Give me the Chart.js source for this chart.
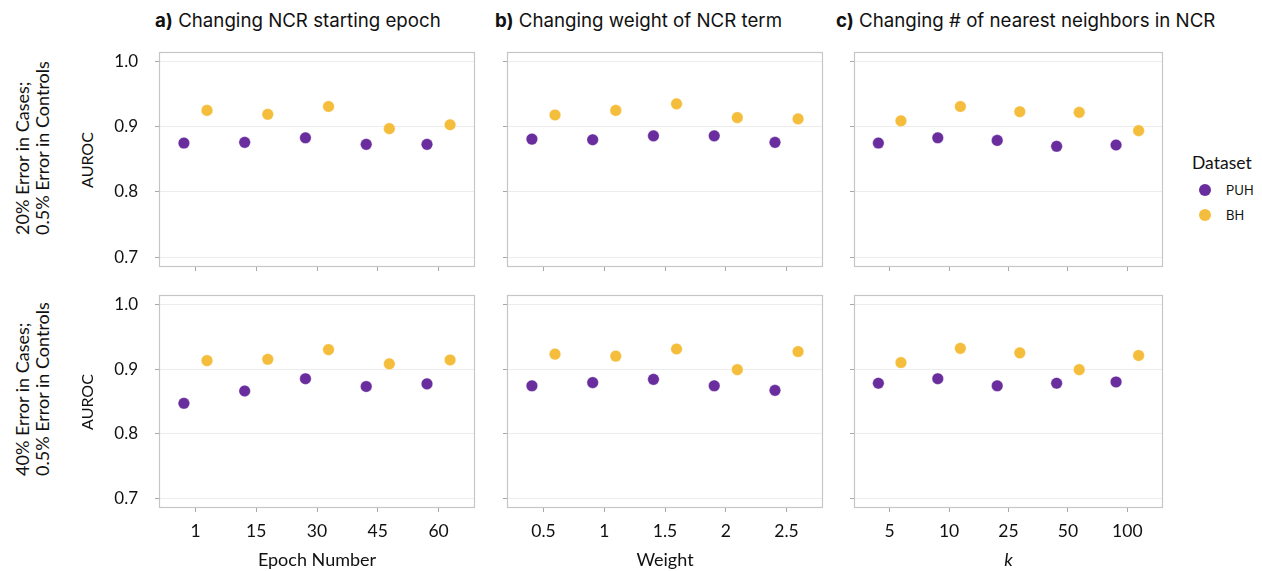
<!DOCTYPE html>
<html>
<head>
<meta charset="utf-8">
<script src="https://cdn.jsdelivr.net/npm/chart.js@4.4.1/dist/chart.umd.min.js"></script>
<style>
  html, body { margin: 0; padding: 0; background: #fff; }
  body { width: 1262px; height: 571px; position: relative; overflow: hidden; font-family: Lato, "Open Sans", sans-serif; color: #111; }
  canvas { position: absolute; }
  .abs { position: absolute; white-space: pre; }
  .title { font-family: Inter, "Open Sans", sans-serif; font-size: 18.7px; color: #111; top: 9px; }
  .title b { font-weight: 700; }
  .rot { transform-origin: 0 0; transform: rotate(-90deg); }
</style>
</head>
<body>
<script>
// ---------- data ----------
const seriesNames = ["PUH", "BH"];
const yTickValues = [0.7, 0.8, 0.9, 1.0];

const epochLabels  = ["1", "15", "30", "45", "60"];
const weightLabels = ["0.5", "1", "1.5", "2", "2.5"];
const kLabels      = ["5", "10", "25", "50", "100"];

// Row 1: 20% error in cases; 0.5% error in controls
const r1EpochPUH  = [0.875, 0.876, 0.883, 0.873, 0.873];
const r1EpochBH   = [0.925, 0.919, 0.931, 0.897, 0.903];
const r1WeightPUH = [0.881, 0.880, 0.886, 0.886, 0.876];
const r1WeightBH  = [0.918, 0.925, 0.935, 0.914, 0.912];
const r1KPUH      = [0.875, 0.883, 0.879, 0.870, 0.872];
const r1KBH       = [0.909, 0.931, 0.923, 0.922, 0.894];

// Row 2: 40% error in cases; 0.5% error in controls
const r2EpochPUH  = [0.847, 0.866, 0.885, 0.873, 0.877];
const r2EpochBH   = [0.913, 0.915, 0.930, 0.908, 0.914];
const r2WeightPUH = [0.874, 0.879, 0.884, 0.874, 0.867];
const r2WeightBH  = [0.923, 0.920, 0.931, 0.899, 0.927];
const r2KPUH      = [0.878, 0.885, 0.874, 0.878, 0.880];
const r2KBH       = [0.910, 0.932, 0.925, 0.899, 0.921];

// ---------- style ----------
const COLORS = { PUH: "#6A2D9E", BH: "#F5BD3C" };
const DODGE = 0.19;
const GRID = "#ececec", TICKC = "#a8a8a8", BORDER = "#c6c6c6";

const cols = [
  { l: 159, r: 475, labels: epochLabels },
  { l: 507, r: 823, labels: weightLabels },
  { l: 854, r: 1163, labels: kLabels }
];
const rows = [
  { t: 52, b: 267, data: [[r1EpochPUH, r1EpochBH], [r1WeightPUH, r1WeightBH], [r1KPUH, r1KBH]] },
  { t: 295, b: 508, data: [[r2EpochPUH, r2EpochBH], [r2WeightPUH, r2WeightBH], [r2KPUH, r2KBH]] }
];

const borderPlugin = {
  id: "panelBorder",
  beforeDatasetsDraw(chart) {
    const a = chart.chartArea, ctx = chart.ctx;
    ctx.save();
    ctx.strokeStyle = BORDER;
    ctx.lineWidth = 1.2;
    ctx.strokeRect(a.left + 0.5, a.top + 0.5, a.right - a.left - 1, a.bottom - a.top - 1);
    ctx.restore();
  }
};

const PADL = 60, PADT = 8, PADR = 8, PADB = 45;

rows.forEach((row, ri) => {
  cols.forEach((col, ci) => {
    const cv = document.createElement("canvas");
    const w = col.r - col.l + PADL + PADR;
    const h = row.b - row.t + PADT + PADB;
    cv.width = w; cv.height = h;
    cv.style.left = (col.l - PADL) + "px";
    cv.style.top = (row.t - PADT) + "px";
    cv.style.width = w + "px"; cv.style.height = h + "px";
    document.body.appendChild(cv);

    const showY = ci === 0, showX = ri === rows.length - 1;
    const pair = row.data[ci];
    const datasets = seriesNames.map((name, si) => ({
      label: name,
      data: pair[si].map((v, i) => ({ x: i + 1 + (si === 0 ? -DODGE : DODGE), y: v })),
      backgroundColor: COLORS[name],
      borderColor: "rgba(255,255,255,0.6)",
      borderWidth: 0.6,
      pointRadius: 5.8,
      pointHoverRadius: 5.8,
      showLine: false
    }));

    new Chart(cv, {
      type: "scatter",
      data: { datasets },
      plugins: [borderPlugin],
      options: {
        responsive: false,
        devicePixelRatio: 1,
        animation: false,
        layout: { padding: { left: 0, top: PADT, right: PADR, bottom: 0 } },
        plugins: { legend: { display: false }, tooltip: { enabled: false } },
        scales: {
          x: {
            type: "linear", min: 0.4, max: 5.6,
            afterBuildTicks: s => { s.ticks = col.labels.map((_, i) => ({ value: i + 1 })); },
            afterFit: s => { s.height = PADB; s.paddingLeft = 0; s.paddingRight = 0; },
            grid: { drawOnChartArea: false, drawTicks: true, tickLength: 4, tickColor: TICKC },
            border: { display: false },
            ticks: {
              autoSkip: false, maxRotation: 0, padding: 9,
              color: "#111", font: { family: "Lato", size: 17.5 },
              callback: (v, i) => showX ? col.labels[i] : ""
            }
          },
          y: {
            type: "linear", min: 0.685, max: 1.0145,
            afterBuildTicks: s => { s.ticks = yTickValues.map(v => ({ value: v })); },
            afterFit: s => { s.width = PADL; s.paddingTop = 0; s.paddingBottom = 0; },
            grid: { color: GRID, lineWidth: 1, drawTicks: true, tickLength: 4, tickColor: TICKC },
            border: { display: false },
            ticks: {
              padding: 17,
              color: "#111", font: { family: "Lato", size: 17 },
              callback: v => showY ? Number(v).toFixed(1) : ""
            }
          }
        }
      }
    });
  });
});

// ---------- text ----------
function addText(html, cls, style) {
  const d = document.createElement("div");
  d.className = "abs " + (cls || "");
  d.innerHTML = html;
  Object.assign(d.style, style);
  document.body.appendChild(d);
  return d;
}
addText("<b>a)</b> Changing NCR starting epoch", "title", { left: "155px" });
addText("<b>b)</b> Changing weight of NCR term", "title", { left: "495px" });
addText("<b>c)</b> Changing # of nearest neighbors in NCR", "title", { left: "836px" });

const rowLabels = ["20% Error in Cases;\n0.5% Error in Controls", "40% Error in Cases;\n0.5% Error in Controls"];
rows.forEach((row, ri) => {
  const cy = (row.t + row.b) / 2;
  addText("AUROC", "rot", { left: "77px", top: (cy + 30) + "px", fontSize: "16px", lineHeight: "20px", width: "60px", textAlign: "center" });
  addText(rowLabels[ri], "rot", { left: "12px", top: (row.b - 32) + "px", fontSize: "18px", lineHeight: "20px" });
});

const xTitles = ["Epoch Number", "Weight", "<i>k</i>"];
cols.forEach((col, ci) => {
  addText(xTitles[ci], "", { left: ((col.l + col.r) / 2 - 100) + "px", width: "200px", textAlign: "center", top: "548px", fontSize: "18px" });
});

// legend
addText("Dataset", "", { left: "1192px", top: "152px", fontSize: "17.5px" });
seriesNames.forEach((name, i) => {
  const y = 190 + i * 25;
  const dot = document.createElement("div");
  Object.assign(dot.style, { position: "absolute", left: "1199px", top: (y - 6) + "px", width: "12px", height: "12px", borderRadius: "50%", background: COLORS[name] });
  document.body.appendChild(dot);
  addText(name, "", { left: "1226px", top: (y - 8) + "px", fontSize: "13px", fontFamily: "Inter, sans-serif" });
});
</script>
</body>
</html>
